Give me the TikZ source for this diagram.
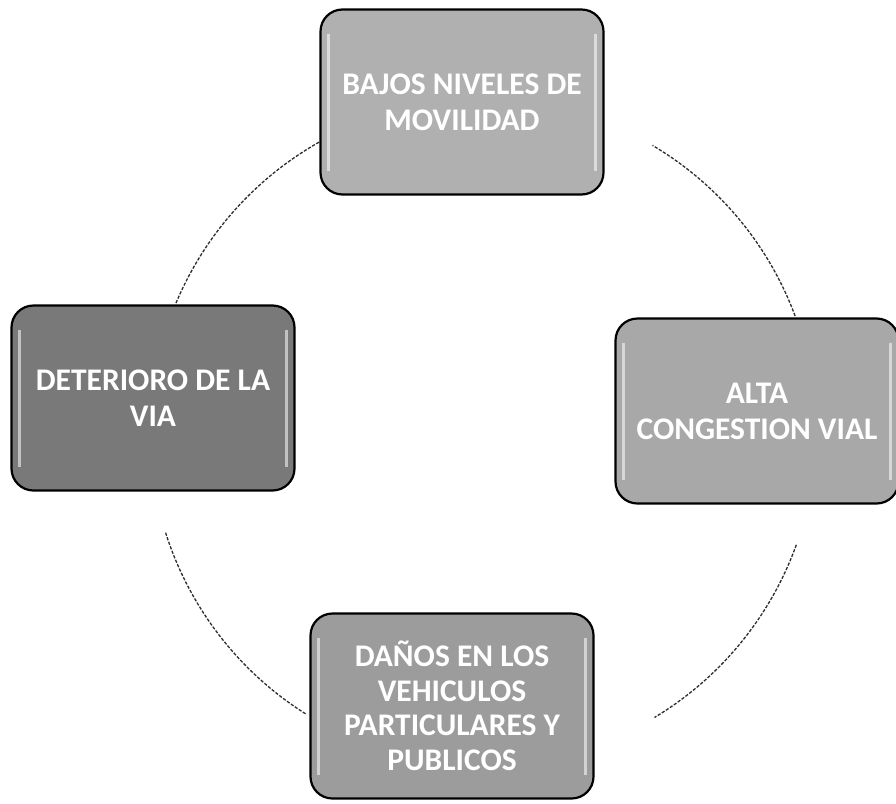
\documentclass[tikz,border=0pt]{standalone}
\usepackage{fontspec}
\setmainfont{Carlito}
\begin{document}
\begin{tikzpicture}[x=1pt,y=-1pt,
  cbox/.style={draw=black, line width=2.2pt, rounded corners=22pt,
    minimum width=283pt, minimum height=185pt, inner sep=0pt,
    text=white, align=center,
    font=\fontsize{31.5}{36}\selectfont\bfseries,
    path picture={
      \draw[white, opacity=0.55, line width=3pt]
        ([xshift=8pt,yshift=-24pt]path picture bounding box.north west) --
        ([xshift=8pt,yshift=24pt]path picture bounding box.south west);
      \draw[white, opacity=0.55, line width=3pt]
        ([xshift=-8pt,yshift=-24pt]path picture bounding box.north east) --
        ([xshift=-8pt,yshift=24pt]path picture bounding box.south east);
    }},
  ring/.style={draw=gray!35!black, line width=1.3pt, dash pattern=on 3.2pt off 1.6pt}]
\useasboundingbox (0,0) rectangle (896,803);
\fill[white] (0,0) rectangle (896,803);
\coordinate (c) at (483,432);
% circle arcs
\coordinate (p1) at ([shift={(119.5:333pt)}]c);
\coordinate (p2) at ([shift={(20.4:333pt)}]c);
\coordinate (p3) at ([shift={(-19.8:333pt)}]c);
\coordinate (p4) at ([shift={(197.6:333pt)}]c);
\draw[ring] (p1) arc[start angle=119.5, end angle=157.4, radius=333pt];
\draw[ring] (p2) arc[start angle=20.4, end angle=59.4, radius=333pt];
\draw[ring] (p3) arc[start angle=-19.8, end angle=-59, radius=333pt];
\draw[ring] (p4) arc[start angle=197.6, end angle=238, radius=333pt];
% boxes
\node[cbox, fill=gray!62] (top) at (462,102) {BAJOS NIVELES DE\\MOVILIDAD};
\node[cbox, fill=gray!95!black] (left) at (153,398) {DETERIORO DE LA\\VIA};
\node[cbox, fill=gray!68] (right) at (757,411) {ALTA\\CONGESTION VIAL};
\node[cbox, fill=gray!78, font=\fontsize{31.5}{34.5}\selectfont\bfseries] (bottom) at (452,706) {DAÑOS EN LOS\\VEHICULOS\\PARTICULARES Y\\PUBLICOS};
\end{tikzpicture}
\end{document}
